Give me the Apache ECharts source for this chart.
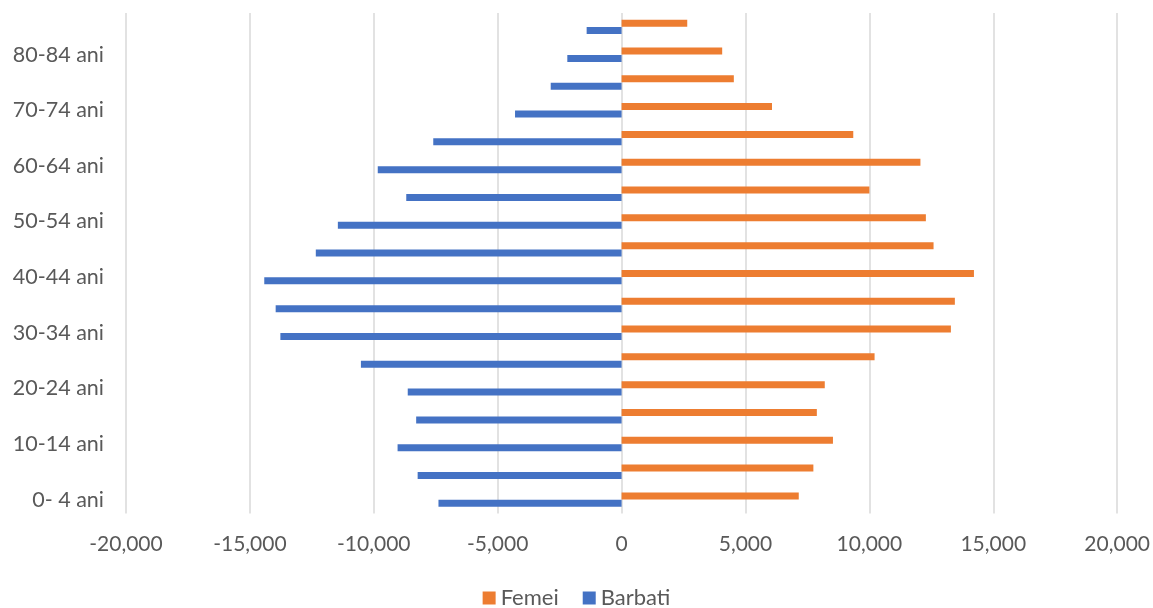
<!DOCTYPE html>
<html>
<head>
<meta charset="utf-8">
<script src="https://cdn.jsdelivr.net/npm/echarts@6/dist/echarts.min.js"></script>
<style>
html,body{margin:0;padding:0;background:#fff;}
#chart{width:1153px;height:608px;}
</style>
</head>
<body>
<div id="chart"></div>
<script>
var categories = ["0- 4 ani","5- 9 ani","10-14 ani","15-19 ani","20-24 ani","25-29 ani","30-34 ani","35-39 ani","40-44 ani","45-49 ani","50-54 ani","55-59 ani","60-64 ani","65-69 ani","70-74 ani","75-79 ani","80-84 ani","85+ ani"];
var femei = [7150,7740,8530,7880,8200,10210,13290,13450,14220,12590,12280,10000,12060,9350,6070,4530,4060,2650];
var barbati = [-7390,-8230,-9040,-8290,-8630,-10520,-13770,-13960,-14420,-12340,-11450,-8690,-9840,-7600,-4300,-2860,-2190,-1410];

var chart = echarts.init(document.getElementById('chart'));
var fam = 'Lato, "Open Sans", "Liberation Sans", sans-serif';
chart.setOption({
  animation: false,
  textStyle: {fontFamily: fam},
  grid: {left: 126, right: 35, top: 13, bottom: 94.5, containLabel: false},
  legend: {
    data: ['Femei','Barbati'],
    top: 582,
    left: 'center',
    itemWidth: 13, itemHeight: 13, itemGap: 24,
    icon: 'rect',
    textStyle: {color: '#595959', fontSize: 22, fontFamily: fam}
  },
  xAxis: {
    type: 'value',
    min: -20000, max: 20000, interval: 5000,
    axisLine: {show: false},
    axisTick: {show: false},
    splitLine: {show: true, lineStyle: {color: '#D9D9D9', width: 1.5}},
    axisLabel: {
      color: '#595959', fontSize: 21, fontFamily: fam, margin: 20,
      formatter: function(v){ return v.toLocaleString('en-US'); }
    }
  },
  yAxis: {
    type: 'category',
    data: categories,
    axisLine: {show: false},
    axisTick: {show: false},
    axisLabel: {color: '#595959', fontSize: 21.5, fontFamily: fam, margin: 22, interval: 1}
  },
  series: [
    {name: 'Femei', type: 'bar', data: femei, barWidth: 7, barGap: '6%', itemStyle: {color: '#ED7D31'}},
    {name: 'Barbati', type: 'bar', data: barbati, barWidth: 7, barGap: '6%', itemStyle: {color: '#4472C4'}}
  ]
});
</script>
</body>
</html>
